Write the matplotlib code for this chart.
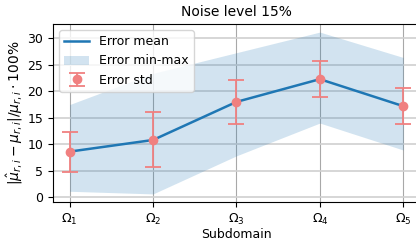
import numpy as np
import matplotlib
matplotlib.use('Agg')
import matplotlib.pyplot as plt

subdomains = [r'$\Omega_1$', r'$\Omega_2$', r'$\Omega_3$', r'$\Omega_4$', r'$\Omega_5$']
err_mean = [8.6, 10.8, 18.0, 22.3, 17.2]
err_std = [3.8, 5.2, 4.2, 3.4, 3.4]
err_min = [1.1, 0.6, 7.8, 14.0, 8.9]
err_max = [17.5, 23.4, 27.3, 31.2, 26.4]

x = np.arange(len(subdomains))

fig = plt.figure(figsize=(4.16, 2.4), dpi=100)
ax = fig.add_axes([0.1274, 0.1583, 0.882, 0.7417])

ax.plot(x, err_mean, color='#1f77b4', lw=1.8, label='Error mean', zorder=3)
ax.fill_between(x, err_min, err_max, color='#1f77b4', alpha=0.2, lw=0, label='Error min-max')
ax.errorbar(x, err_mean, yerr=err_std, fmt='o', color='#f08080', ms=6, capsize=6,
            elinewidth=1.3, capthick=1.3, label='Error std', zorder=4)

ax.set_xticks(x)
ax.set_xticklabels(subdomains, fontsize=9)
ax.set_yticks(np.arange(0, 31, 5))
ax.tick_params(labelsize=9)
ax.yaxis.grid(True, color='#d0d0d0', lw=1.2)
ax.xaxis.grid(True, color='#a8a8a8', lw=0.8)
ax.set_axisbelow(True)
ax.spines['right'].set_visible(False)

ax.set_xlabel('Subdomain', fontsize=9, labelpad=1)
ax.set_ylabel(r'$|\hat{\mu}_{r,i} - \mu_{r,i}|/\mu_{r,i} \cdot 100\%$', fontsize=10, labelpad=2)
ax.set_title('Noise level 15%', fontsize=10)
ax.legend(loc='upper left', fontsize=9)

fig.savefig('out.png', dpi=100)
